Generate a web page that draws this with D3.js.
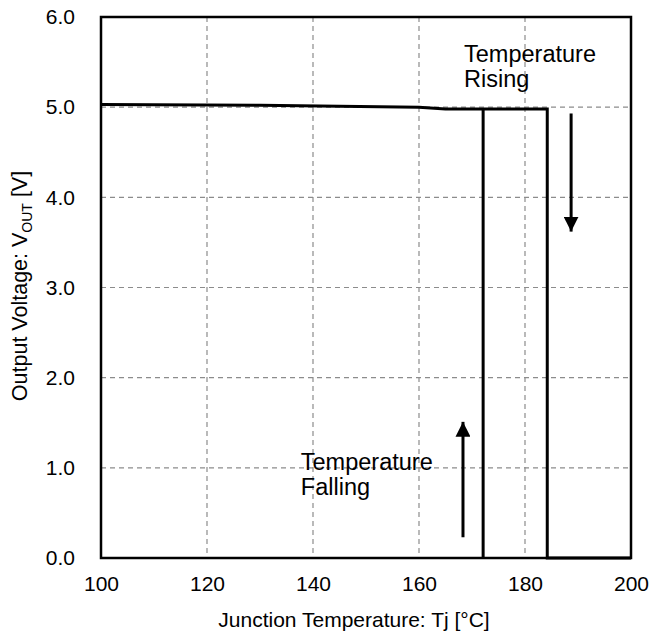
<!DOCTYPE html>
<html><head><meta charset="utf-8">
<script src="https://cdn.jsdelivr.net/npm/d3@7"></script>
<style>body{margin:0;background:#fff}svg{display:block;font-family:"Liberation Sans",Arial,sans-serif}</style>
</head><body>
<svg id="c" width="649" height="635"></svg>
<script>
// Data
const xTicks = [100,120,140,160,180,200];
const yTicks = [0,1,2,3,4,5,6];
const risingT = [100, 130, 160, 165, 184.2, 184.2, 200];
const risingV = [5.03, 5.02, 5.0, 4.98, 4.98, 0, 0];
const fallingT = [172.1, 172.1];
const fallingV = [0, 4.98];
const arrowDown = {t:[188.7,188.7], v:[4.93,3.62]};
const arrowUp = {t:[168.3,168.3], v:[0.23,1.51]};
const labels = [
  {lines:["Temperature","Rising"], t:168.5, v:5.505},
  {lines:["Temperature","Falling"], t:137.7, v:0.98}
];

const svg = d3.select("#c");
const L=101,R=631,T=17,B=558;
const x = d3.scaleLinear().domain([100,200]).range([L,R]);
const y = d3.scaleLinear().domain([0,6]).range([B,T]);
const FF = "Liberation Sans, Arial, sans-serif";

// grid
svg.append("g").selectAll("line").data(xTicks.slice(1,-1)).join("line")
  .attr("x1",d=>x(d)).attr("x2",d=>x(d)).attr("y1",T).attr("y2",B)
  .attr("stroke","#8c8c8c").attr("stroke-width",1.2).attr("stroke-dasharray","5,4");
svg.append("g").selectAll("line").data(yTicks.slice(1,-1)).join("line")
  .attr("y1",d=>y(d)).attr("y2",d=>y(d)).attr("x1",L).attr("x2",R)
  .attr("stroke","#8c8c8c").attr("stroke-width",1.2).attr("stroke-dasharray","5,4");

// axes (labels only)
const xa = svg.append("g").attr("transform",`translate(0,${B})`)
  .call(d3.axisBottom(x).tickValues(xTicks).tickSize(0).tickPadding(18).tickFormat(d3.format("d")));
xa.select(".domain").remove();
xa.selectAll("text").attr("font-size",21).attr("fill","#000").attr("font-family",FF);
const ya = svg.append("g").attr("transform",`translate(${L},0)`)
  .call(d3.axisLeft(y).tickValues(yTicks).tickSize(0).tickPadding(26).tickFormat(d3.format(".1f")));
ya.select(".domain").remove();
ya.selectAll("text").attr("font-size",21).attr("fill","#000").attr("font-family",FF);

// frame
svg.append("rect").attr("x",L).attr("y",T).attr("width",R-L).attr("height",B-T)
  .attr("fill","none").attr("stroke","#000").attr("stroke-width",2.5);

// lines
const line = d3.line().x(d=>x(d[0])).y(d=>y(d[1]));
svg.append("path").attr("d",line(risingT.map((t,i)=>[t,risingV[i]])))
  .attr("fill","none").attr("stroke","#000").attr("stroke-width",3).attr("stroke-linejoin","miter");
svg.append("path").attr("d",line(fallingT.map((t,i)=>[t,fallingV[i]])))
  .attr("fill","none").attr("stroke","#000").attr("stroke-width",3);

// arrows
svg.append("defs").append("marker").attr("id","ah").attr("viewBox","0 0 10 10")
  .attr("refX",10).attr("refY",5).attr("markerWidth",5).attr("markerHeight",5)
  .attr("markerUnits","strokeWidth").attr("orient","auto")
  .append("path").attr("d","M0,0L10,5L0,10Z").attr("fill","#000");
[arrowDown,arrowUp].forEach(a=>{
  svg.append("line").attr("x1",x(a.t[0])).attr("y1",y(a.v[0])).attr("x2",x(a.t[1])).attr("y2",y(a.v[1]))
    .attr("stroke","#000").attr("stroke-width",3).attr("marker-end","url(#ah)");
});

// annotations
labels.forEach(l=>{
  const tx = svg.append("text").attr("x",x(l.t)).attr("y",y(l.v)).attr("font-size",23.5).attr("fill","#000");
  l.lines.forEach((s,i)=>tx.append("tspan").attr("x",x(l.t)).attr("dy",i?25:0).text(s));
});

// axis titles
svg.append("text").attr("x",354).attr("y",627).attr("text-anchor","middle").attr("font-size",21)
  .text("Junction Temperature: Tj [°C]");
const yt = svg.append("text").attr("transform",`translate(27,286) rotate(-90)`)
  .attr("text-anchor","middle").attr("font-size",21.5);
yt.append("tspan").text("Output Voltage: V");
yt.append("tspan").attr("font-size",14).attr("dy",5).text("OUT");
yt.append("tspan").attr("dy",-5).text(" [V]");
</script>
</body></html>
